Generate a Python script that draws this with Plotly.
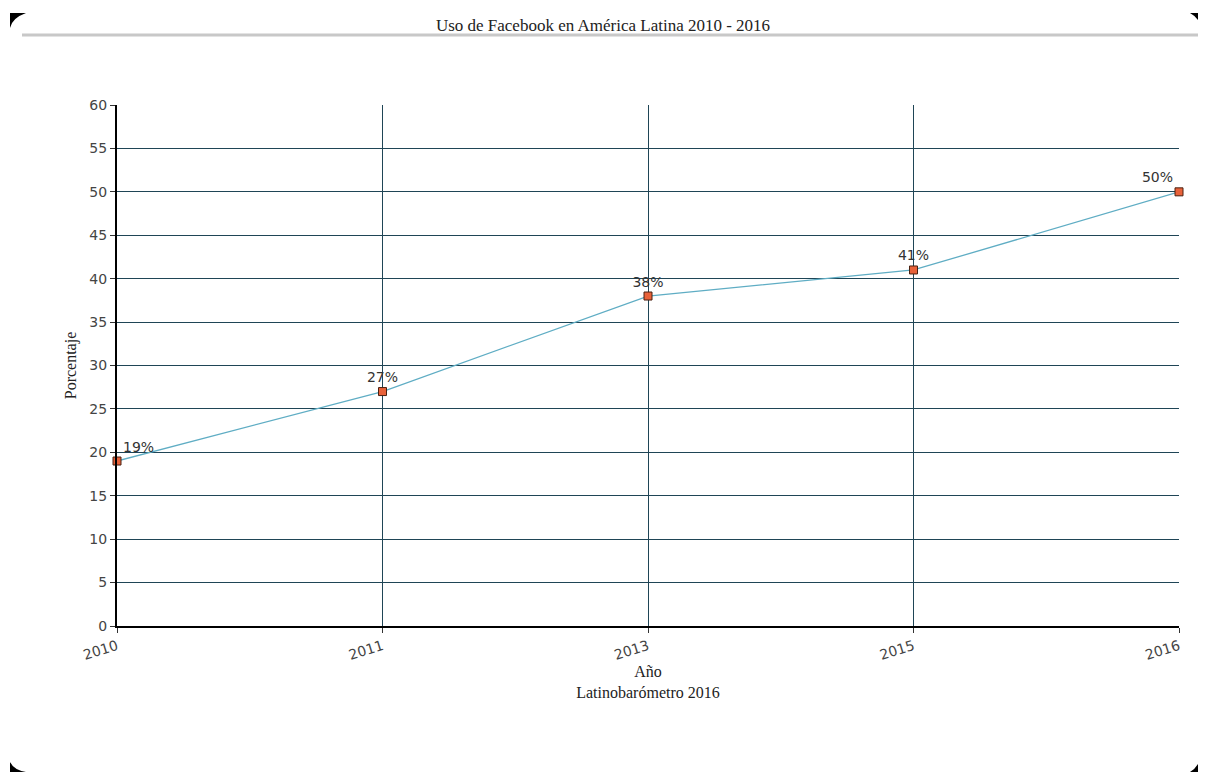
import plotly.graph_objects as go

years = ["2010", "2011", "2013", "2015", "2016"]
values = [19, 27, 38, 41, 50]
labels = ["19%", "27%", "38%", "41%", "50%"]
label_pos = ["top right", "top center", "top center", "top center", "top left"]

# page has an 8px body margin; plot area in page coords: x 117..1179, y 105..626
OFF = 8
W, H = 1190, 764
L, R, T, B = 109, 19, 97, 146
pw, ph = W - L - R, H - T - B

def px(x):
    return (x - OFF - L) / pw

def py(y):
    return (OFF + H - B - y) / ph

fig = go.Figure()
fig.add_trace(go.Scatter(
    x=years, y=values, mode="lines+markers+text",
    text=labels, textposition=label_pos,
    textfont=dict(family="DejaVu Sans", size=14, color="#333333"),
    line=dict(color="#5fadc4", width=1.3),
    marker=dict(symbol="square", size=8, color="#e8623a",
                line=dict(color="#4a2010", width=1)),
    cliponaxis=False, showlegend=False, hoverinfo="x+y",
))

shapes = [
    dict(type="line", xref="paper", yref="paper", x0=px(22), x1=px(1198),
         y0=py(35), y1=py(35), line=dict(color="#c8c8c8", width=3)),
    dict(type="path", xref="paper", yref="paper",
         path=f"M {px(10)},{py(13)} L {px(26)},{py(13)} Q {px(12)},{py(18)} {px(10)},{py(28)} Z",
         fillcolor="black", line=dict(width=0)),
    dict(type="path", xref="paper", yref="paper",
         path=f"M {px(1190)},{py(13)} L {px(1198)},{py(13)} L {px(1198)},{py(20)} Q {px(1194)},{py(15)} {px(1190)},{py(13)} Z",
         fillcolor="black", line=dict(width=0)),
    dict(type="path", xref="paper", yref="paper",
         path=f"M {px(10)},{py(762)} Q {px(14)},{py(770)} {px(26)},{py(772)} L {px(10)},{py(772)} Z",
         fillcolor="black", line=dict(width=0)),
    dict(type="path", xref="paper", yref="paper",
         path=f"M {px(1198)},{py(764)} L {px(1198)},{py(772)} L {px(1190)},{py(772)} Q {px(1195)},{py(769)} {px(1198)},{py(764)} Z",
         fillcolor="black", line=dict(width=0)),
]

fig.update_layout(
    width=W, height=H,
    margin=dict(l=L, r=R, t=T, b=B),
    paper_bgcolor="white", plot_bgcolor="white",
    title=dict(text="Uso de Facebook en América Latina 2010 - 2016",
               x=0.5, xanchor="center", y=1 - 17 / H, yanchor="middle",
               font=dict(family="Liberation Serif", size=17, color="#222222")),
    shapes=shapes,
    xaxis=dict(
        type="category", range=[0, 4],
        showgrid=True, gridcolor="#1f4556", gridwidth=1,
        showline=True, linecolor="black", linewidth=2,
        ticks="outside", ticklen=5, tickcolor="#333333",
        tickangle=-17,
        tickfont=dict(family="DejaVu Sans", size=14, color="#444444"),
        title=dict(text="Año<br>Latinobarómetro 2016", standoff=2,
                   font=dict(family="Liberation Serif", size=16, color="#222222")),
        zeroline=False,
    ),
    yaxis=dict(
        range=[0, 60], dtick=5, tick0=0,
        showgrid=True, gridcolor="#1f4556", gridwidth=1,
        showline=True, linecolor="black", linewidth=2,
        ticks="outside", ticklen=5, tickcolor="#333333",
        tickfont=dict(family="DejaVu Sans", size=14, color="#444444"),
        title=dict(text="Porcentaje", standoff=9,
                   font=dict(family="Liberation Serif", size=16, color="#222222")),
        zeroline=False,
    ),
)

fig.write_html("out.html")
